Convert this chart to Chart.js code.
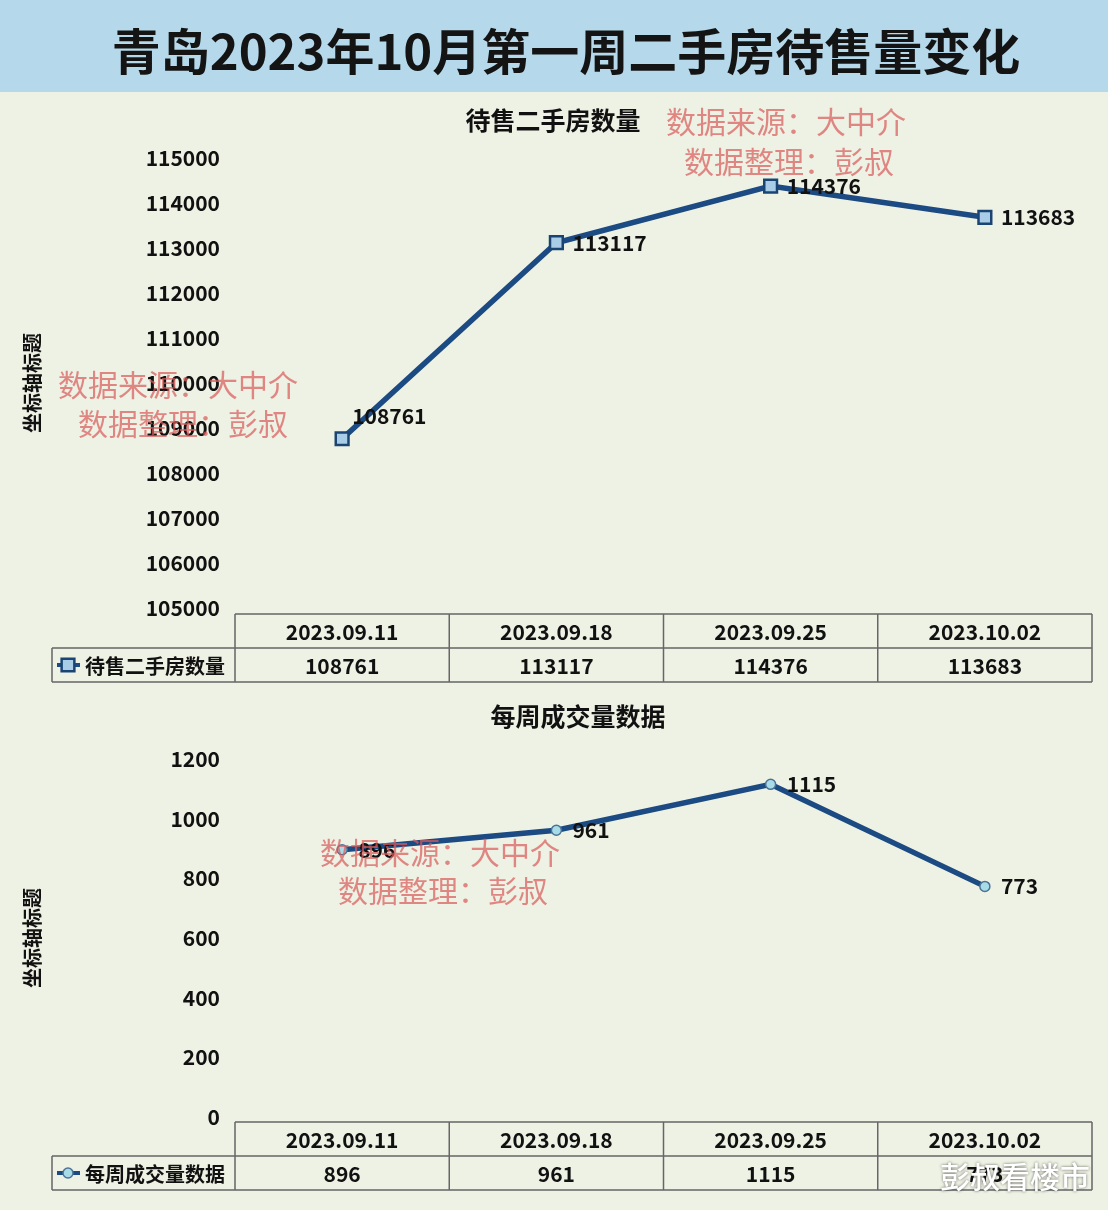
<!DOCTYPE html>
<html>
<head>
<meta charset="utf-8">
<script src="https://cdn.jsdelivr.net/npm/chart.js@4.4.0/dist/chart.umd.min.js"></script>
<style>
  body { margin: 0; width: 1108px; height: 1210px; background: #eef2e4; position: relative; overflow: hidden;
         font-family: "Noto Sans CJK SC", sans-serif; }
  #head { position: absolute; left: 0; top: 0; width: 1108px; height: 92px; background: #b5d9ea;
          text-align: center; font-size: 49px; font-weight: 700; line-height: 92px; color: #141414;
          padding: 3px 0 0 24px; box-sizing: border-box; }
  canvas { position: absolute; left: 0; }
  .mark { position: absolute; font-size: 30px; line-height: 30px; color: rgba(218, 92, 92, 0.72); white-space: nowrap; z-index: 2; }
  #brand { position: absolute; left: 940px; top: 1158px; font-size: 30px; line-height: 34px; color: #fff; font-weight: 500;
           text-shadow: 0 0 3px rgba(0,0,0,0.6); z-index: 2; }
</style>
</head>
<body>
<div id="head">青岛2023年10月第一周二手房待售量变化</div>
<canvas id="stockChart" width="1108" height="600" style="top:92px"></canvas>
<canvas id="dealChart" width="1108" height="518" style="top:692px"></canvas>

<div class="mark" style="left:666px;top:105px">数据来源：大中介</div>
<div class="mark" style="left:684px;top:145px">数据整理：彭叔</div>
<div class="mark" style="left:58px;top:368px">数据来源：大中介</div>
<div class="mark" style="left:78px;top:407px">数据整理：彭叔</div>
<div class="mark" style="left:320px;top:836px">数据来源：大中介</div>
<div class="mark" style="left:338px;top:874px">数据整理：彭叔</div>
<div id="brand">彭叔看楼市</div>

<script>
// data
const weeks = ['2023.09.11', '2023.09.18', '2023.09.25', '2023.10.02'];
const stockCounts = [108761, 113117, 114376, 113683];
const weeklyDeals = [896, 961, 1115, 773];
const stockAxis = [105000, 115000, 1000];   // min, max, step
const dealAxis = [0, 1200, 200];

const FONT = '"Noto Sans CJK SC", sans-serif';
const LINE_COLOR = '#1c4a82';

// chart title drawn at a fixed centre (the original is not centred on the canvas)
const chartTitle = {
  id: 'chartTitle',
  afterDraw(chart, args, o) {
    const ctx = chart.ctx;
    ctx.save();
    ctx.font = 'bold 25px ' + FONT;
    ctx.fillStyle = '#111';
    ctx.textAlign = 'center';
    ctx.textBaseline = 'middle';
    ctx.fillText(o.text, o.x, o.y);
    ctx.restore();
  }
};

// value labels next to each point
const valueLabels = {
  id: 'valueLabels',
  afterDatasetsDraw(chart, args, o) {
    const ctx = chart.ctx;
    const meta = chart.getDatasetMeta(0);
    const values = chart.data.datasets[0].data;
    ctx.save();
    ctx.font = 'bold 21px ' + FONT;
    ctx.fillStyle = '#111';
    ctx.textBaseline = 'middle';
    ctx.textAlign = 'left';
    meta.data.forEach((pt, i) => {
      const above = (o.above || []).includes(i);
      ctx.fillText(String(values[i]), pt.x + (above ? 10 : 16), pt.y + (above ? -23 : 0));
    });
    ctx.restore();
  }
};

// excel-style data table under the plot
const dataTable = {
  id: 'dataTable',
  afterDraw(chart, args, o) {
    const { ctx, chartArea } = chart;
    const xs = chart.scales.x;
    const ds = chart.data.datasets[0];
    const n = chart.data.labels.length;
    const top = chartArea.bottom + o.gap;
    const rh = o.rowHeight;
    const left = chartArea.left, right = chartArea.right;
    const colW = (right - left) / n;
    const lx = o.legendLeft;

    ctx.save();
    ctx.strokeStyle = '#666';
    ctx.lineWidth = 1.5;
    ctx.beginPath();
    ctx.moveTo(left, top); ctx.lineTo(right, top);
    ctx.moveTo(lx, top + rh); ctx.lineTo(right, top + rh);
    ctx.moveTo(lx, top + 2 * rh); ctx.lineTo(right, top + 2 * rh);
    for (let i = 0; i <= n; i++) {
      ctx.moveTo(left + i * colW, top); ctx.lineTo(left + i * colW, top + 2 * rh);
    }
    ctx.moveTo(lx, top + rh); ctx.lineTo(lx, top + 2 * rh);
    ctx.stroke();

    ctx.fillStyle = '#111';
    ctx.font = 'bold 21px ' + FONT;
    ctx.textAlign = 'center';
    ctx.textBaseline = 'middle';
    chart.data.labels.forEach((lab, i) => {
      const cx = xs.getPixelForValue(i);
      ctx.fillText(lab, cx, top + rh / 2 + 1);
      ctx.fillText(String(ds.data[i]), cx, top + rh * 1.5 + 1);
    });

    // legend key
    const ky = top + rh * 1.5;
    ctx.strokeStyle = ds.borderColor;
    ctx.lineWidth = 4;
    ctx.beginPath();
    ctx.moveTo(lx + 5, ky); ctx.lineTo(lx + 28, ky);
    ctx.stroke();
    ctx.fillStyle = ds.pointBackgroundColor;
    ctx.strokeStyle = ds.pointBorderColor;
    ctx.lineWidth = ds.pointBorderWidth;
    Chart.helpers.drawPoint(ctx, { pointStyle: ds.pointStyle, radius: ds.pointRadius, rotation: 0, borderWidth: ds.pointBorderWidth }, lx + 16, ky);
    ctx.fillStyle = '#111';
    ctx.font = 'bold 20px ' + FONT;
    ctx.textAlign = 'left';
    ctx.fillText(ds.label, lx + 33, ky + 1);
    ctx.restore();
  }
};

function makeChart(id, name, values, axis, point, layout) {
  return new Chart(document.getElementById(id), {
    type: 'line',
    data: {
      labels: weeks,
      datasets: [{
        label: name,
        data: values,
        borderColor: LINE_COLOR,
        borderWidth: 5.5,
        tension: 0,
        pointStyle: point.style,
        pointRadius: point.radius,
        pointBackgroundColor: point.fill,
        pointBorderColor: point.border,
        pointBorderWidth: point.borderWidth
      }]
    },
    options: {
      responsive: false,
      animation: false,
      layout: { padding: { left: 0, right: 16, top: layout.top, bottom: 0 } },
      plugins: {
        legend: { display: false },
        tooltip: { enabled: false },
        title: { display: false },
        chartTitle: { text: name, x: layout.titleX, y: layout.titleY },
        valueLabels: { above: layout.above },
        dataTable: { gap: layout.gap, rowHeight: 34, legendLeft: 52 }
      },
      scales: {
        x: {
          type: 'category',
          offset: true,
          grid: { display: false },
          border: { display: false },
          ticks: { display: false },
          afterFit: s => { s.height = layout.tableSpace; }
        },
        y: {
          min: axis[0],
          max: axis[1],
          grid: { display: false, drawTicks: false },
          border: { display: false },
          ticks: {
            stepSize: axis[2],
            padding: 15,
            color: '#111',
            font: { family: FONT, size: 21, weight: 'bold' },
            callback: v => String(v)
          },
          title: {
            display: true,
            text: '坐标轴标题',
            color: '#111',
            font: { family: FONT, size: 20, weight: 'bold' },
            padding: { top: 20, bottom: 0 }
          },
          afterFit: s => { s.width = 235; }
        }
      }
    },
    plugins: [chartTitle, valueLabels, dataTable]
  });
}

makeChart('stockChart', '待售二手房数量', stockCounts, stockAxis,
  { style: 'rect', radius: 9, fill: '#a9cde6', border: '#1a4473', borderWidth: 2.5 },
  { top: 66, titleX: 553, titleY: 28, tableSpace: 84, gap: 6, above: [0] });

makeChart('dealChart', '每周成交量数据', weeklyDeals, dealAxis,
  { style: 'circle', radius: 5, fill: '#a8dbe8', border: '#4b7394', borderWidth: 1.5 },
  { top: 67, titleX: 578, titleY: 24, tableSpace: 93, gap: 5, above: [] });
</script>
</body>
</html>
